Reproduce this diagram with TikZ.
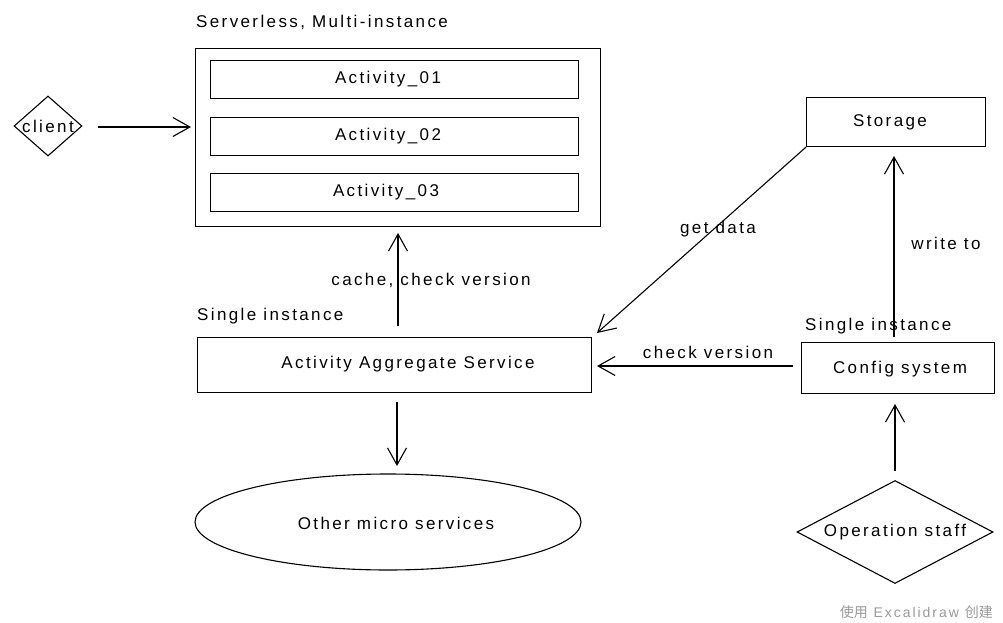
\documentclass[tikz,border=0pt]{standalone}
\usepackage{fontspec}
\setmainfont{Liberation Sans}[LetterSpace=14]
\newfontfamily\cjk{Noto Sans CJK SC}
\usetikzlibrary{arrows.meta,shapes.geometric}

\tikzset{
  ink/.style={line width=1.1pt, draw=black},
  box/.style={ink, rectangle, inner sep=0pt, anchor=north west},
  lbl/.style={font=\fontsize{17}{19}\selectfont, inner sep=0pt},
  flow/.style={ink, -{Straight Barb[length=17pt, width=19pt, line width=1.1pt]}},
}

\begin{document}
\begin{tikzpicture}[x=1pt, y=-1pt]
  \useasboundingbox[fill=white] (0,0) rectangle (1003,623);

  % serverless container and its activities
  \node[lbl, anchor=west] (srvtitle) at (196,22) {Serverless, Multi-instance};
  \node[box, minimum width=405pt, minimum height=178pt] (container) at (195,48) {};
  \node[box, minimum width=368pt, minimum height=38pt] (act1) at (210,60) {};
  \node[lbl] (act1t) at (388,79) {Activity\_01};
  \node[box, minimum width=368pt, minimum height=38pt] (act2) at (210,117) {};
  \node[lbl] (act2t) at (388,136) {Activity\_02};
  \node[box, minimum width=368pt, minimum height=38pt] (act3) at (210,173) {};
  \node[lbl] (act3t) at (386,192) {Activity\_03};

  % client
  \node[ink, diamond, aspect=1.15, minimum width=68pt, minimum height=60pt, inner sep=0pt] (client) at (48,126) {};
  \node[lbl] (clientt) at (48,126) {client};
  \coordinate (clientout) at (98,127);
  \coordinate (containerin) at (191,127);
  \draw[flow] (clientout) -- (containerin);

  % aggregate service
  \node[lbl, anchor=west] (agglbl) at (197,316) {Single instance};
  \node[box, minimum width=394pt, minimum height=55pt] (agg) at (197,337) {};
  \node[lbl] (aggt) at (408,364) {Activity Aggregate Service};
  \coordinate (aggup) at (398,326);
  \coordinate (contdown) at (398,233);
  \draw[flow] (aggup) -- (contdown);
  \node[lbl] (cachelbl) at (431,280) {cache, check version};

  % other micro services
  \node[ink, ellipse, minimum width=386pt, minimum height=96pt, inner sep=0pt] (other) at (388,522) {};
  \node[lbl] (othert) at (396,523) {Other micro services};
  \coordinate (aggdown) at (397,402);
  \coordinate (otherin) at (397,466);
  \draw[flow] (aggdown) -- (otherin);

  % storage
  \node[box, minimum width=179pt, minimum height=49pt] (storage) at (806,97) {};
  \node[lbl] (storaget) at (890,122) {Storage};

  % config system
  \node[lbl, anchor=west] (cfglbl) at (805,326) {Single instance};
  \node[box, minimum width=193pt, minimum height=51pt] (config) at (801,342) {};
  \node[lbl] (configt) at (900,369) {Config system};

  % config -> storage
  \coordinate (cfgup) at (894,337);
  \coordinate (storin) at (894,156);
  \draw[flow] (cfgup) -- (storin);
  \node[lbl] (writelbl) at (946,243) {write to};

  % storage -> aggregate
  \coordinate (aggin) at (597,333);
  \draw[flow] (storage.south west) -- (aggin);
  \node[lbl] (getlbl) at (718,229) {get data};

  % config -> aggregate
  \coordinate (cfgout) at (793,366);
  \coordinate (aggright) at (597,366);
  \draw[flow] (cfgout) -- (aggright);
  \node[lbl] (chklbl) at (708,352) {check version};

  % operation staff
  \node[ink, diamond, aspect=1.9, minimum width=196pt, minimum height=103pt, inner sep=0pt] (staff) at (895,532) {};
  \node[lbl] (stafft) at (895,532) {Operation staff};
  \coordinate (staffup) at (895,471);
  \coordinate (cfgin) at (895,404);
  \draw[flow] (staffup) -- (cfgin);

  % footer
  \node[anchor=east, inner sep=0pt, text=black!40, font=\fontsize{14}{16}\selectfont] (footer) at (993,612) {{\cjk 使用} Excalidraw {\cjk 创建}};
\end{tikzpicture}
\end{document}
